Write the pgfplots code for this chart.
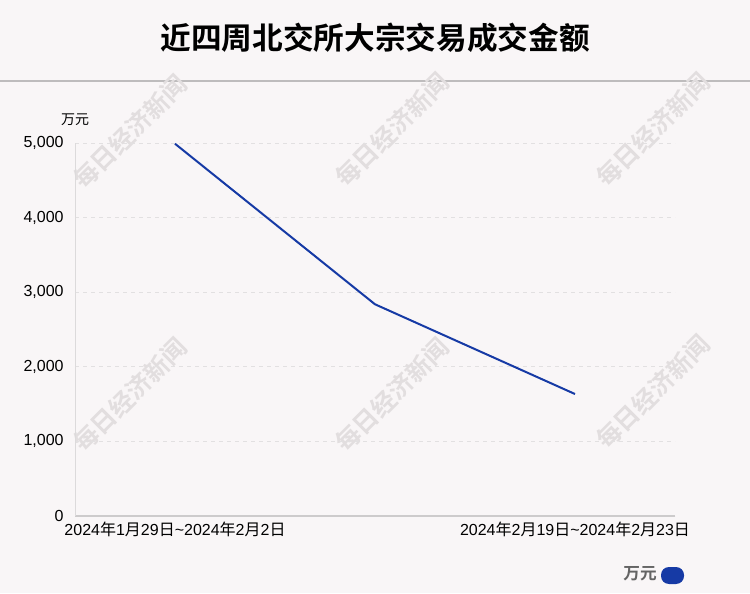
\documentclass[border=0pt]{standalone}
\usepackage{pgfplots}
\pgfplotsset{compat=1.18}
\usepackage{fontspec}
\setmainfont{Liberation Sans}
\newfontfamily\cjk{Noto Sans CJK SC}
\newfontfamily\cjkb{Noto Sans CJK SC Bold}
\definecolor{bg}{RGB}{249,246,247}
\definecolor{linec}{RGB}{22,58,165}
\definecolor{gridc}{RGB}{226,224,225}
\definecolor{wm}{RGB}{226,222,223}
\begin{document}
\begin{tikzpicture}[x=0.75pt,y=0.75pt]
\fill[bg] (0,0) rectangle (750,593);
% title
\node[font=\cjkb\fontsize{23}{26}\selectfont, anchor=center] at (375,555) {近四周北交所大宗交易成交金额};
\draw[color={rgb,255:red,190;green,188;blue,189}, line width=1.5pt] (0,512) -- (750,512);
% watermarks
\foreach \cx/\cy in {130/461, 392/463, 653/463, 130/198, 392/198, 653/201}{
  \node[rotate=45, font=\cjkb\fontsize{18.5}{20}\selectfont, text=wm] at (\cx,\cy) {每日经济新闻};
}
\begin{axis}[
  at={(56.25pt,57.75pt)}, anchor=south west,
  width=450pt, height=279.75pt, scale only axis,
  xmin=-0.5, xmax=2.5, ymin=0, ymax=5000,
  axis x line*=bottom, axis y line*=left,
  axis line style={-},
  x axis line style={draw={rgb,255:red,205;green,203;blue,204}, line width=1.2pt},
  y axis line style={draw={rgb,255:red,220;green,218;blue,219}, line width=0.6pt},
  major tick length=0pt,
  xtick={0,2},
  xticklabels={2024{\cjk 年}1{\cjk 月}29{\cjk 日}\textasciitilde2024{\cjk 年}2{\cjk 月}2{\cjk 日},
               2024{\cjk 年}2{\cjk 月}19{\cjk 日}\textasciitilde2024{\cjk 年}2{\cjk 月}23{\cjk 日}},
  ytick={0,1000,2000,3000,4000,5000},
  ymajorgrids,
  major grid style={draw=gridc, dash pattern=on 3pt off 3pt, line width=0.6pt},
  tick label style={font=\fontsize{12}{14}\selectfont, text=black},
  /pgf/number format/assume math mode=true,
  /pgf/number format/1000 sep={,},
  scaled y ticks=false,
  xticklabel style={yshift=-1pt},
  yticklabel style={xshift=-5pt},
  clip=false,
]
\addplot[linec, line width=1.5pt] coordinates {(0,4990) (1,2838) (2,1635)};
\end{axis}
\node[font=\cjk\fontsize{10.5}{12}\selectfont] at (75,473) {万元};
% legend
\node[font=\cjkb\fontsize{12.5}{14}\selectfont, text={rgb,255:red,100;green,100;blue,100}] at (640,19) {万元};
\fill[linec, rounded corners=6] (661,9) rectangle (684,26);
\pgfresetboundingbox
\path[use as bounding box] (0,0) rectangle (750,593);
\end{tikzpicture}
\end{document}
